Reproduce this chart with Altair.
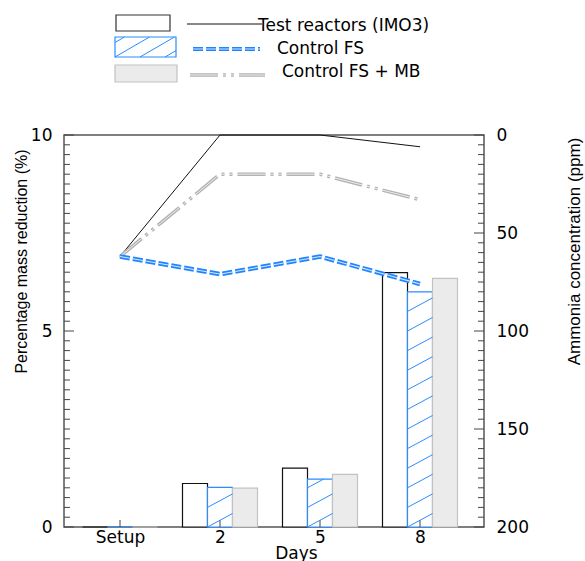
import altair as alt
import numpy as np
import pandas as pd

# ---------------- data ----------------
categories = ["Setup", "2", "5", "8"]
series_names = ["Test reactors (IMO3)", "Control FS", "Control FS + MB"]

mass_test = [0.0, 1.11, 1.50, 6.49]
mass_fs = [0.0, 1.01, 1.22, 6.00]
mass_mb = [0.0, 0.99, 1.34, 6.34]

ammonia_test = [62, 0, 0, 6]
ammonia_fs = [62, 71, 62, 76]
ammonia_mb = [62, 20, 20, 33]

left_tick_labels = [0, 5, 10]
right_tick_labels = [0, 50, 100, 150, 200]
left_minor = [float(v) for v in np.arange(0, 10.001, 0.25) if v not in left_tick_labels]
right_minor = [v for v in range(0, 201, 5) if v not in right_tick_labels]

# ---------------- styles ----------------
BLACK = "#111111"
BLUE = "#2b8cff"
GRAY_FILL = "#ebebeb"
GRAY_STROKE = "#c2c2c2"
TICK = "#444444"
LABEL_FONT = "DejaVu Sans"
TITLE_FONT = "Liberation Sans"
FS = 17

W, H = 420, 392
X = alt.Scale(domain=[-0.56, 3.64], nice=False, zero=False)
YL = alt.Scale(domain=[0, 10], nice=False, zero=False)
YR = alt.Scale(domain=[0, 200], reverse=True, nice=False, zero=False)

# ---------------- tables ----------------
rows = []
for s_i, (name, vals) in enumerate(zip(series_names, [mass_test, mass_fs, mass_mb])):
    for i, v in enumerate(vals):
        rows.append(dict(series=name, idx=i, slot=s_i - 1, value=v))
bars_df = pd.DataFrame(rows)

# hatch segments inside the Control FS bars (data units)
slope = 1.376
spacing = 0.5
hrows = []
for i, v in enumerate(mass_fs):
    if v <= 0:
        continue
    xl, xr = i - 0.125, i + 0.125
    for k in range(-1, int(v / spacing) + 2):
        y0 = k * spacing
        y1 = y0 + slope * (xr - xl)
        if y0 < 0:
            xs, ys = xl + (0 - y0) / slope, 0.0
        else:
            xs, ys = xl, y0
        if y1 > v:
            xe, ye = xl + (v - y0) / slope, v
        else:
            xe, ye = xr, y1
        if xe > xs and ye > ys:
            hrows.append(dict(x1=xs, x2=xe, y1=ys, y2=ye))
hatch_df = pd.DataFrame(hrows)

idx_df = pd.DataFrame({"idx": list(range(len(categories)))})

# ---------------- axes ----------------
label_expr = ""
for i, c in enumerate(categories):
    label_expr += f"datum.value == {i} ? '{c}' : "
label_expr += "''"

x_axis = alt.Axis(values=list(range(len(categories))), labelExpr=label_expr, ticks=False,
                  domain=False, grid=False, labelFont=LABEL_FONT, labelFontSize=FS,
                  labelColor="black", labelPadding=2,
                  title="Days", titleFont=LABEL_FONT, titleFontSize=FS,
                  titleFontWeight="normal", titleColor="black", titleX=232, titleY=31,
                  titleBaseline="alphabetic", titleAlign="center")
yl_axis = alt.Axis(orient="left", values=left_tick_labels, ticks=False, domain=False, grid=False,
                   labelFont=LABEL_FONT, labelFontSize=FS, labelColor="black",
                   labelPadding=12,
                   title="Percentage mass reduction (%)", titleFont=TITLE_FONT,
                   titleFontSize=16, titleFontWeight="normal", titleColor="black",
                   titleX=-43, titleY=126, titleAngle=270, titleBaseline="middle",
                   titleAlign="center")
yr_axis = alt.Axis(orient="right", values=right_tick_labels, ticks=False, domain=False,
                   grid=False, labelFont=LABEL_FONT, labelFontSize=FS, labelColor="black",
                   labelPadding=12,
                   title="Ammonia concentration (ppm)", titleFont=TITLE_FONT,
                   titleFontSize=17, titleFontWeight="normal", titleColor="black",
                   titleX=90, titleY=116, titleAngle=270, titleBaseline="middle",
                   titleAlign="center")

def xq(field):
    return alt.X(field, type="quantitative", scale=X, axis=x_axis)

# ---------------- left (mass) marks ----------------
bars = alt.Chart(bars_df).transform_calculate(
    xl="datum.idx + datum.slot * 0.25 - 0.125",
    xr="datum.idx + datum.slot * 0.25 + 0.125",
).mark_rect(strokeWidth=1.2).encode(
    x=xq("xl"),
    x2="xr:Q",
    y=alt.Y("value:Q", scale=YL, axis=yl_axis),
    y2=alt.datum(0),
    fill=alt.Fill("series:N", scale=alt.Scale(domain=series_names,
                  range=["#ffffff", "#ffffff", GRAY_FILL]), legend=None),
    stroke=alt.Stroke("series:N", scale=alt.Scale(domain=series_names,
                      range=[BLACK, BLUE, GRAY_STROKE]), legend=None),
)
lminor = alt.Chart(pd.DataFrame({"v": left_minor})).mark_rule(color=TICK).encode(
    y=alt.Y("v:Q", scale=YL, axis=None), x=alt.value(0), x2=alt.value(6))
lmajor = alt.Chart(pd.DataFrame({"v": left_tick_labels})).mark_rule(color=TICK).encode(
    y=alt.Y("v:Q", scale=YL, axis=None), x=alt.value(0), x2=alt.value(10))
bticks = alt.Chart(idx_df).mark_rule(color=TICK).encode(
    x=xq("idx"), y=alt.value(H), y2=alt.value(H - 7))
hatch = alt.Chart(hatch_df).mark_rule(color=BLUE, strokeWidth=1).encode(
    x=xq("x1"), x2="x2:Q",
    y=alt.Y("y1:Q", scale=YL, axis=None), y2="y2:Q")

# ---------------- right (ammonia) marks ----------------
def line_df(vals):
    return pd.DataFrame({"idx": list(range(len(vals))), "ammonia": vals})

line_test = alt.Chart(line_df(ammonia_test)).mark_line(color=BLACK, strokeWidth=1).encode(
    x=xq("idx"), y=alt.Y("ammonia:Q", scale=YR, axis=yr_axis))
rminor = alt.Chart(pd.DataFrame({"v": right_minor})).mark_rule(color=TICK).encode(
    y=alt.Y("v:Q", scale=YR, axis=None), x=alt.value(W), x2=alt.value(W - 6))
rmajor = alt.Chart(pd.DataFrame({"v": right_tick_labels})).mark_rule(color=TICK).encode(
    y=alt.Y("v:Q", scale=YR, axis=None), x=alt.value(W), x2=alt.value(W - 10))
MB_DASH = [28, 5, 3, 5, 3, 5]
FS_DASH = [10, 3]
line_mb_o = alt.Chart(line_df(ammonia_mb)).mark_line(color="#b3b3b3", strokeWidth=3.5,
                                                    strokeDash=MB_DASH).encode(
    x=xq("idx"), y=alt.Y("ammonia:Q", scale=YR, axis=None))
line_mb_i = alt.Chart(line_df(ammonia_mb)).mark_line(color="#ececec", strokeWidth=1.0,
                                                    strokeDash=MB_DASH).encode(
    x=xq("idx"), y=alt.Y("ammonia:Q", scale=YR, axis=None))
line_fs_o = alt.Chart(line_df(ammonia_fs)).mark_line(color="#1f85ff", strokeWidth=4.5,
                                                    strokeDash=FS_DASH).encode(
    x=xq("idx"), y=alt.Y("ammonia:Q", scale=YR, axis=None))
line_fs_i = alt.Chart(line_df(ammonia_fs)).mark_line(color="#cfe6ff", strokeWidth=1.1,
                                                    strokeDash=FS_DASH).encode(
    x=xq("idx"), y=alt.Y("ammonia:Q", scale=YR, axis=None))

# ---------------- legend (drawn above the plot) ----------------
def lab(i):
    return pd.DataFrame({"label": [series_names[i]]})

legend_layers = []
# row 1
legend_layers.append(alt.Chart(lab(0)).mark_rect(fill="white", stroke="#333", strokeWidth=1.2).encode(
    x=alt.value(52), x2=alt.value(106), y=alt.value(-120), y2=alt.value(-104)))
legend_layers.append(alt.Chart(lab(0)).mark_rule(color=BLACK, strokeWidth=1).encode(
    x=alt.value(123), x2=alt.value(198), y=alt.value(-111)))
legend_layers.append(alt.Chart(lab(0)).mark_text(align="left", baseline="middle", font=LABEL_FONT,
                     fontSize=FS, color="black").encode(x=alt.value(194), y=alt.value(-109), text="label:N"))
# row 2
bx0, bx1, by0, by1 = 51, 112, -98, -78
legend_layers.append(alt.Chart(lab(1)).mark_rect(fill="white", stroke=BLUE, strokeWidth=1.2).encode(
    x=alt.value(bx0), x2=alt.value(bx1), y=alt.value(by0), y2=alt.value(by1)))
lslope = 0.58
for x0 in [bx0 - 25, bx0, bx0 + 25, bx0 + 50]:
    xs, xe = x0, x0 + (by1 - by0) / lslope
    ys, ye = by1, by0
    if xs < bx0:
        ys = by1 - (bx0 - x0) * lslope
        xs = bx0
    if xe > bx1:
        ye = by1 - (bx1 - x0) * lslope
        xe = bx1
    if xe > xs:
        legend_layers.append(alt.Chart(lab(1)).mark_rule(color=BLUE, strokeWidth=1).encode(
            x=alt.value(xs), x2=alt.value(xe), y=alt.value(ys), y2=alt.value(ye)))
legend_layers.append(alt.Chart(lab(1)).mark_rule(color="#1f85ff", strokeWidth=4, strokeDash=FS_DASH).encode(
    x=alt.value(129), x2=alt.value(196), y=alt.value(-86)))
legend_layers.append(alt.Chart(lab(1)).mark_rule(color="#cfe6ff", strokeWidth=1.1, strokeDash=FS_DASH).encode(
    x=alt.value(129), x2=alt.value(196), y=alt.value(-86)))
legend_layers.append(alt.Chart(lab(1)).mark_text(align="left", baseline="middle", font=LABEL_FONT,
                     fontSize=FS, color="black").encode(x=alt.value(213), y=alt.value(-86), text="label:N"))
# row 3
legend_layers.append(alt.Chart(lab(2)).mark_rect(fill=GRAY_FILL, stroke=GRAY_STROKE, strokeWidth=1.2).encode(
    x=alt.value(51), x2=alt.value(113), y=alt.value(-70), y2=alt.value(-53)))
legend_layers.append(alt.Chart(lab(2)).mark_rule(color="#b3b3b3", strokeWidth=3.5,
                     strokeDash=MB_DASH).encode(
    x=alt.value(126), x2=alt.value(201), y=alt.value(-60)))
legend_layers.append(alt.Chart(lab(2)).mark_rule(color="#ececec", strokeWidth=1.0,
                     strokeDash=MB_DASH).encode(
    x=alt.value(126), x2=alt.value(201), y=alt.value(-60)))
legend_layers.append(alt.Chart(lab(2)).mark_text(align="left", baseline="middle", font=LABEL_FONT,
                     fontSize=FS, color="black").encode(x=alt.value(218), y=alt.value(-63), text="label:N"))

chart = alt.layer(
    bars, line_test, lminor, lmajor, bticks, hatch,
    rminor, rmajor, line_mb_o, line_mb_i, line_fs_o, line_fs_i,
    *legend_layers,
).resolve_scale(y="independent").properties(
    width=W, height=H,
    padding={"left": 64, "top": 135, "right": 101, "bottom": 34},
    autosize=alt.AutoSizeParams(type="none"),
    background="white",
).configure_view(stroke="#555555", strokeWidth=1.5)

chart.save("out.html", embed_options={"renderer": "svg", "actions": False})
